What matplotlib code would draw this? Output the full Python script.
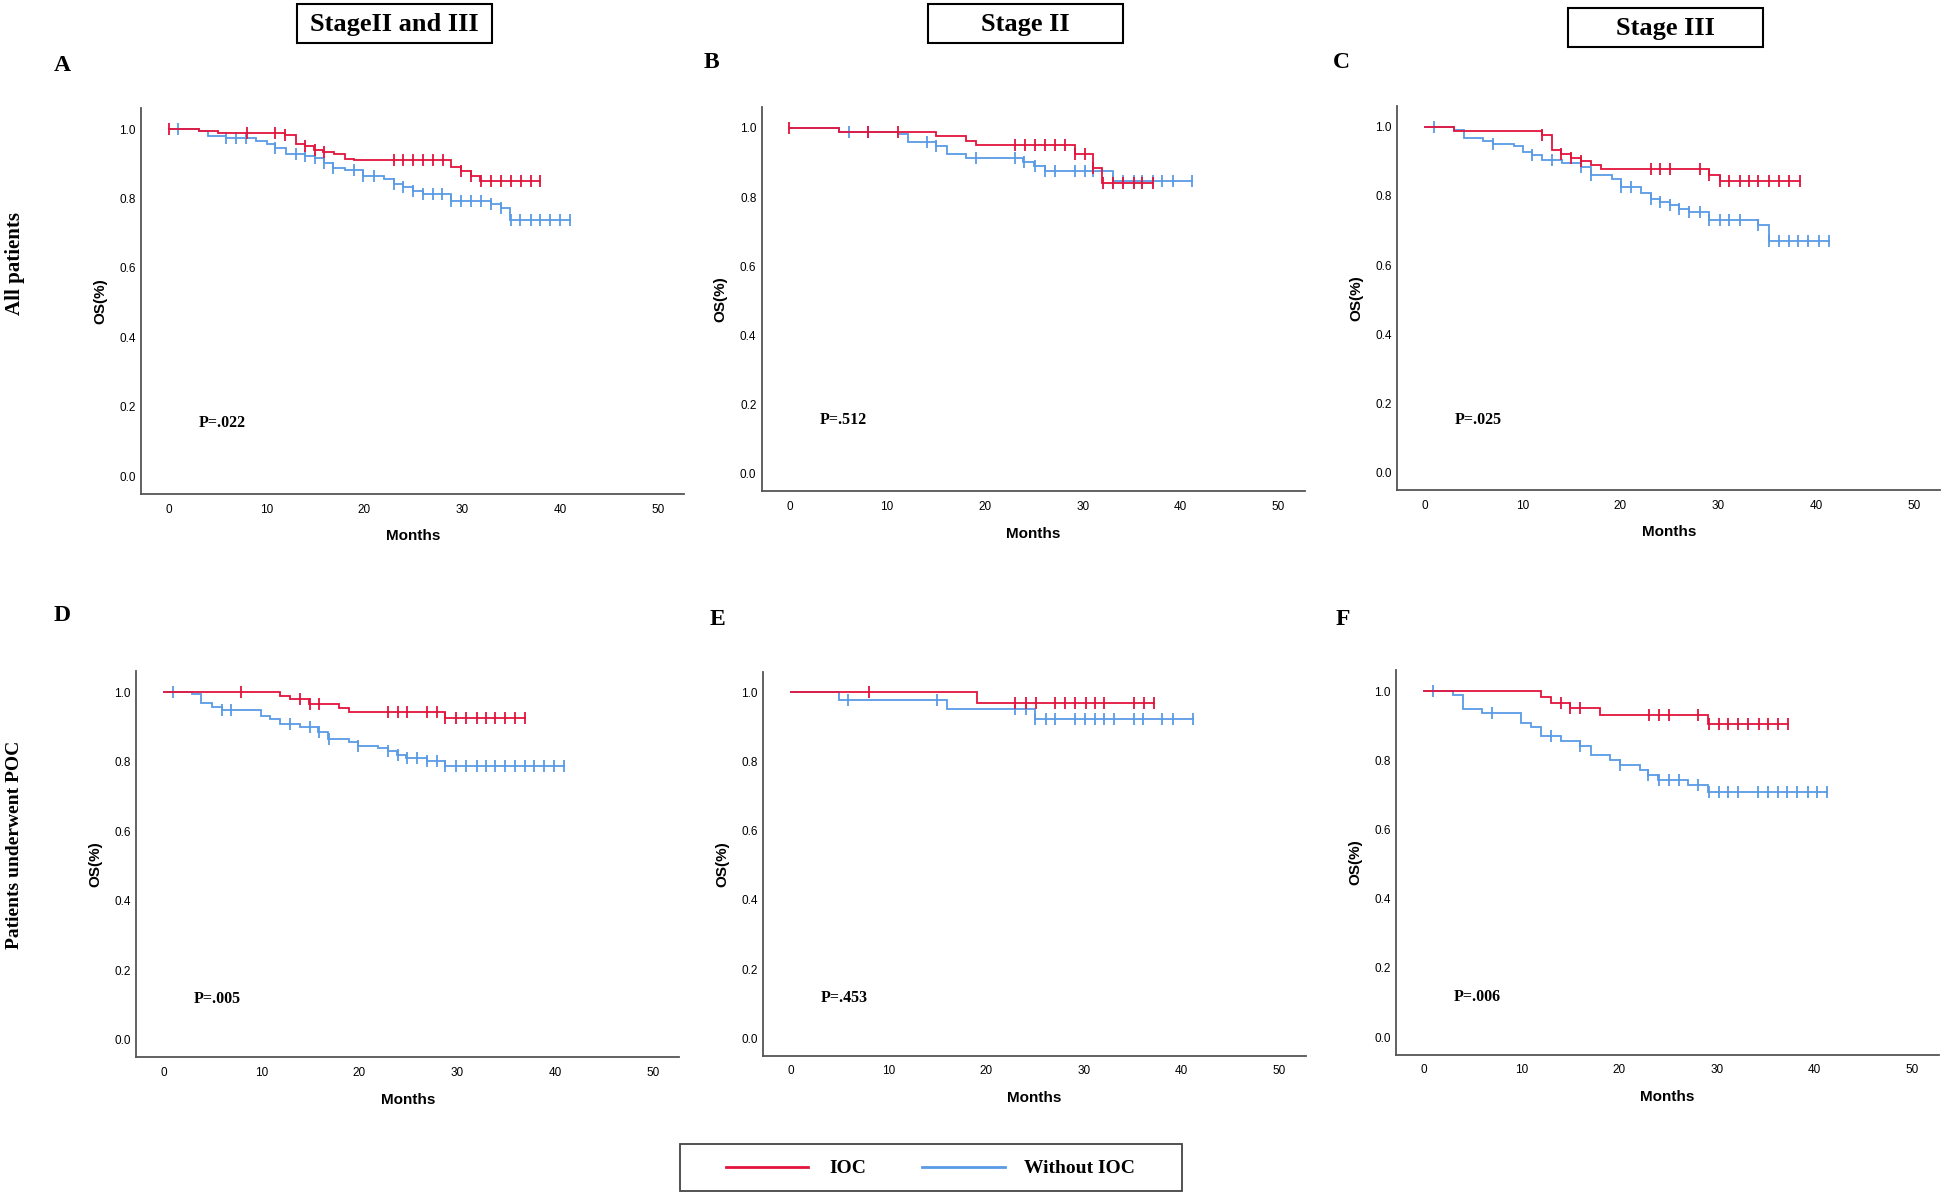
import matplotlib
matplotlib.use("Agg")
import numpy as np
import matplotlib.pyplot as plt
from matplotlib.patches import Rectangle
from matplotlib.lines import Line2D

# step times / survival after the step / censor times, per panel and group
A_ioc_t = [3.1, 5.0, 11.9, 13.0, 13.9, 14.8, 15.8, 16.9, 18.0, 18.9, 28.9, 29.9, 30.9, 31.8]
A_ioc_s = [0.994, 0.988, 0.984, 0.958, 0.950, 0.940, 0.935, 0.928, 0.915, 0.910, 0.890, 0.880, 0.866, 0.850]
A_ioc_c = [0, 8.0, 10.9, 11.9, 13.9, 14.9, 15.9, 23, 24, 25, 26, 27, 28, 29.9, 30.9, 31.9, 32.9, 34, 35, 36, 37, 38]
A_no_t = [3.1, 4.0, 5.9, 8.9, 10.0, 10.9, 12.0, 13.9, 14.9, 15.9, 16.8, 18.0, 19.9, 22.0, 23.0, 24.0, 25.0, 26.0, 28.9, 32.9, 34.0, 34.9]
A_no_s = [0.994, 0.979, 0.973, 0.966, 0.957, 0.944, 0.928, 0.923, 0.918, 0.903, 0.889, 0.882, 0.865, 0.855, 0.843, 0.834, 0.823, 0.812, 0.792, 0.783, 0.772, 0.737]
A_no_c = [0.9, 5.9, 6.9, 7.9, 10.9, 13.0, 13.9, 14.9, 15.9, 16.8, 18.9, 19.9, 21.0, 23.0, 24.0, 25.0, 26.0, 27.0,
          27.9, 28.9, 29.9, 30.9, 31.9, 32.9, 34.0, 35.0, 35.9, 37.0, 38.0, 39.0, 40.0, 41.0]

B_ioc_t = [5.1, 15.0, 18.1, 19.1, 29.2, 31.1, 32.0]
B_ioc_s = [0.988, 0.975, 0.962, 0.949, 0.923, 0.885, 0.841]
B_ioc_c = [0, 8.0, 11.1, 23.1, 24.1, 25.1, 26.1, 27.2, 28.2, 29.2, 30.2, 31.1, 32.1, 33.1, 34.1, 35.2, 36.1, 37.2]
B_no_t = [5.1, 11.1, 12.1, 15.0, 16.1, 18.1, 23.9, 25.0, 26.1, 33.1]
B_no_s = [0.988, 0.981, 0.959, 0.946, 0.925, 0.914, 0.901, 0.890, 0.876, 0.847]
B_no_c = [6.1, 8.0, 14.1, 15.0, 19.1, 23.1, 24.0, 25.1, 26.1, 27.2, 29.2, 30.2, 31.1, 33.1, 34.1, 35.2, 36.1,
          37.2, 38.1, 39.2, 41.2]

C_ioc_t = [3.0, 12.0, 13.0, 13.9, 15.0, 16.0, 17.0, 18.0, 29.1, 30.2]
C_ioc_s = [0.988, 0.977, 0.933, 0.922, 0.909, 0.900, 0.888, 0.876, 0.861, 0.842]
C_ioc_c = [12.0, 13.9, 15.0, 16.0, 23.1, 24.1, 25.1, 28.1, 29.1, 30.2, 31.1, 32.2, 33.2, 34.1, 35.2, 36.2, 37.2, 38.4]
C_no_t = [3.0, 4.0, 6.0, 7.0, 9.1, 10.0, 11.0, 12.0, 14.0, 16.0, 17.0, 19.1, 20.1, 22.1, 23.1, 24.1, 25.1, 26.0,
          27.0, 29.1, 34.1, 35.2]
C_no_s = [0.990, 0.967, 0.959, 0.951, 0.943, 0.926, 0.919, 0.902, 0.894, 0.884, 0.861, 0.849, 0.824, 0.808,
          0.790, 0.782, 0.772, 0.762, 0.752, 0.730, 0.716, 0.668]
C_no_c = [0.9, 7.0, 11.0, 13.0, 16.0, 17.0, 20.1, 21.1, 23.1, 24.1, 25.1, 26.0, 27.0, 28.1, 29.1, 30.2, 31.1,
          32.2, 34.1, 35.2, 36.2, 37.2, 38.2, 39.2, 40.3, 41.3]

D_ioc_t = [11.9, 12.9, 14.8, 17.9, 18.9, 28.8]
D_ioc_s = [0.990, 0.980, 0.967, 0.956, 0.944, 0.926]
D_ioc_c = [7.9, 13.9, 14.9, 15.9, 22.9, 23.9, 24.9, 26.9, 27.9, 28.8, 29.9, 30.9, 32.0, 32.9, 33.9, 34.9, 35.9, 36.9]
D_no_t = [2.9, 3.8, 4.9, 5.9, 9.9, 10.9, 11.9, 13.9, 15.8, 16.8, 18.9, 19.9, 21.9, 22.9, 23.8, 24.8, 26.9, 28.8]
D_no_s = [0.995, 0.969, 0.959, 0.950, 0.933, 0.924, 0.909, 0.901, 0.885, 0.866, 0.856, 0.846, 0.839, 0.830,
          0.820, 0.811, 0.803, 0.787]
D_no_c = [0.9, 5.9, 6.9, 12.9, 14.9, 15.9, 16.9, 19.9, 22.9, 23.9, 24.9, 25.9, 26.9, 27.9, 28.8, 29.9, 30.9,
          32.0, 32.9, 33.9, 34.9, 35.9, 36.9, 37.9, 38.9, 39.9, 40.9]

E_ioc_t = [19.1]
E_ioc_s = [0.969]
E_ioc_c = [8.0, 23.0, 24.1, 25.1, 27.0, 28.1, 29.1, 30.2, 31.1, 32.1, 35.1, 36.1, 37.2]
E_no_t = [5.0, 16.0, 25.0]
E_no_s = [0.977, 0.953, 0.924]
E_no_c = [5.9, 15.0, 23.0, 24.1, 25.0, 26.1, 27.0, 29.1, 30.1, 31.1, 32.1, 33.1, 35.1, 36.0, 38.0, 39.1, 41.1]

F_ioc_t = [12.0, 13.0, 15.0, 18.0, 29.1]
F_ioc_s = [0.983, 0.966, 0.950, 0.932, 0.906]
F_ioc_c = [14.1, 15.0, 16.0, 23.1, 24.1, 25.1, 28.1, 29.2, 30.2, 31.1, 32.2, 33.2, 34.3, 35.2, 36.2, 37.3]
F_no_t = [3.0, 4.0, 6.0, 10.0, 11.0, 12.0, 14.1, 16.0, 17.1, 19.1, 20.1, 22.1, 23.0, 24.0, 27.0, 29.1]
F_no_s = [0.989, 0.947, 0.936, 0.909, 0.896, 0.869, 0.855, 0.841, 0.814, 0.800, 0.786, 0.773, 0.758, 0.744,
          0.729, 0.709]
F_no_c = [1.0, 7.0, 13.0, 16.0, 20.1, 23.0, 24.1, 25.1, 26.1, 28.1, 29.2, 30.2, 31.1, 32.2, 34.2, 35.2, 36.2,
          37.2, 38.2, 39.3, 40.2, 41.3]

p_values = ["P=.022", "P=.512", "P=.025", "P=.005", "P=.453", "P=.006"]
letters = ["A", "B", "C", "D", "E", "F"]
col_titles = ["StageII and III", "Stage II", "Stage III"]
row_titles = ["All patients", "Patients underwent POC"]
group_names = ["IOC", "Without IOC"]

RED = "#E2143C"
BLUE = "#5A9BE6"
SERIF = "Liberation Serif"
SANS = "Liberation Sans"

W, H = 1568.0, 964.0  # layout measured on the shrunk reference
fig = plt.figure(figsize=(19.46, 11.96), dpi=100)

k = 7.88  # px per month
# tick-0 x, y of 1.0, y of 0.0 for each panel
geo = [(136, 104, 384), (636, 103, 382), (1148, 102, 381),
       (132, 558, 838), (637, 558, 837), (1147, 557, 836)]
p_y = [0.155, 0.155, 0.152, 0.118, 0.117, 0.117]
panels = [
    (A_ioc_t, A_ioc_s, A_ioc_c, A_no_t, A_no_s, A_no_c),
    (B_ioc_t, B_ioc_s, B_ioc_c, B_no_t, B_no_s, B_no_c),
    (C_ioc_t, C_ioc_s, C_ioc_c, C_no_t, C_no_s, C_no_c),
    (D_ioc_t, D_ioc_s, D_ioc_c, D_no_t, D_no_s, D_no_c),
    (E_ioc_t, E_ioc_s, E_ioc_c, E_no_t, E_no_s, E_no_c),
    (F_ioc_t, F_ioc_s, F_ioc_c, F_no_t, F_no_s, F_no_c),
]


def km(ax, t, s, c, color):
    x = np.r_[0.0, t, max(c + t)]
    y = np.r_[1.0, s, s[-1] if len(s) else 1.0]
    ax.step(x, y, where="post", color=color, lw=1.3, solid_joinstyle="miter")
    # censor marks sit on the curve value at that time
    idx = np.searchsorted(np.r_[0.0, t], c, side="right") - 1
    cy = np.r_[1.0, s][idx]
    ax.plot(c, cy, ls="none", marker="|", ms=9, mew=1.3, color=color)


for i, (x0, y1, y0) in enumerate(geo):
    uy = y0 - y1
    left = x0 - 2.8 * k
    width = 55.5 * k
    top = y1 - 0.06 * uy
    bottom = y0 + 0.05 * uy
    ax = fig.add_axes([left / W, 1 - bottom / H, width / W, (bottom - top) / H])
    it, is_, ic, nt, ns, nc = panels[i]
    km(ax, nt, ns, nc, BLUE)
    km(ax, it, is_, ic, RED)
    ax.set_xlim(-2.8, 52.7)
    ax.set_ylim(-0.05, 1.06)
    ax.set_xticks(range(0, 51, 10))
    ax.set_yticks(np.arange(0, 1.01, 0.2))
    ax.set_yticklabels(["%.1f" % v for v in np.arange(0, 1.01, 0.2)])
    ax.tick_params(axis="x", length=0, labelsize=8.5, pad=7)
    ax.tick_params(axis="y", length=0, labelsize=8.5, pad=4)
    for lab in ax.get_xticklabels() + ax.get_yticklabels():
        lab.set_fontfamily(SANS)
    for side in ["top", "right"]:
        ax.spines[side].set_visible(False)
    for side in ["left", "bottom"]:
        ax.spines[side].set_color("#555555")
        ax.spines[side].set_linewidth(1.3)
    ax.set_xlabel("Months", fontsize=11, fontweight="bold", family=SANS)
    ax.set_ylabel("OS(%)", fontsize=11, fontweight="bold", family=SANS)
    ax.xaxis.set_label_coords(0.5, -0.092)
    ax.yaxis.set_label_coords(-0.063, 0.5)
    ax.text(3.1, p_y[i], p_values[i], fontsize=11.5, fontweight="bold", family=SERIF,
            va="center", ha="left")

# column titles in boxes
for cx, cy, title in [(318, 19, col_titles[0]), (826, 19, col_titles[1]), (1342, 22, col_titles[2])]:
    bw, bh = 157, 31
    fig.patches.append(Rectangle(((cx - bw / 2) / W, 1 - (cy + bh / 2) / H), bw / W, bh / H,
                                 transform=fig.transFigure, fill=False, ec="black", lw=1.5))
    fig.text(cx / W, 1 - (cy + 1) / H, title, fontsize=19, fontweight="bold", family=SERIF,
             ha="center", va="center")

# panel letters
for (lx, ly), letter in zip([(50, 53), (573, 50), (1081, 50), (50, 496), (578, 499), (1082, 499)], letters):
    fig.text(lx / W, 1 - ly / H, letter, fontsize=17, fontweight="bold", family=SERIF,
             ha="center", va="center")

# row titles
fig.text(12 / W, 1 - 212 / H, row_titles[0], rotation=90, fontsize=15, fontweight="bold",
         family=SERIF, ha="center", va="center")
fig.text(12 / W, 1 - 681 / H, row_titles[1], rotation=90, fontsize=14, fontweight="bold",
         family=SERIF, ha="center", va="center")

# legend box at the bottom
fig.patches.append(Rectangle((548 / W, 1 - 960 / H), 404 / W, 38 / H, transform=fig.transFigure,
                             fill=False, ec="#444444", lw=1.3))
fig.lines.append(Line2D([585 / W, 651 / W], [1 - 941 / H] * 2, transform=fig.transFigure, color=RED, lw=2))
fig.lines.append(Line2D([743 / W, 810 / W], [1 - 941 / H] * 2, transform=fig.transFigure, color=BLUE, lw=2))
fig.text(668 / W, 1 - 942 / H, group_names[0], fontsize=14, fontweight="bold", family=SERIF,
         ha="left", va="center")
fig.text(825 / W, 1 - 942 / H, group_names[1], fontsize=14, fontweight="bold", family=SERIF,
         ha="left", va="center")

fig.savefig("out.png", dpi=100, facecolor="white")
